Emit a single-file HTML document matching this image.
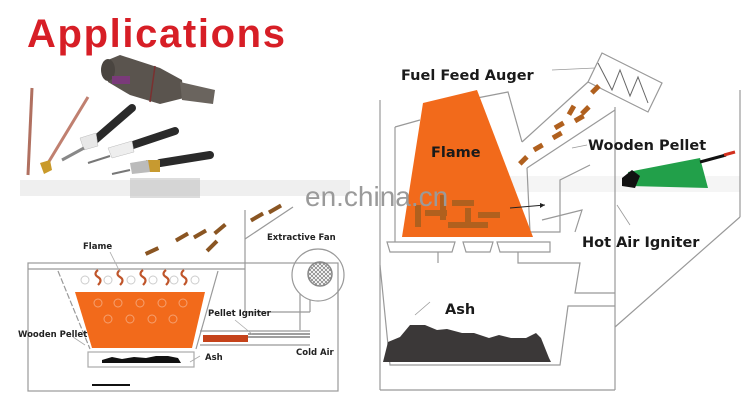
<!DOCTYPE html>
<html><head><meta charset="utf-8"><style>
html,body{margin:0;padding:0;background:#fff;}
svg{display:block;}
text{font-family:"DejaVu Sans","Liberation Sans",sans-serif;font-weight:bold;}
</style></head><body>
<svg width="750" height="400" viewBox="0 0 750 400" xmlns="http://www.w3.org/2000/svg">
<defs>
<pattern id="hatch" width="4" height="4" patternUnits="userSpaceOnUse">
<path d="M0 0L4 4M4 0L0 4" stroke="#777" stroke-width="0.7"/>
</pattern>
</defs>
<rect width="750" height="400" fill="#fff"/>
<text x="27" y="47" font-size="40" fill="#d71e26" style="font-family:'Liberation Sans',sans-serif" textLength="258">Applications</text>

<g>
<line x1="32" y1="88" x2="28" y2="175" stroke="#b07060" stroke-width="3"/>
<line x1="88" y1="97" x2="45" y2="168" stroke="#c08070" stroke-width="3"/>
<polygon points="40,163 50,160 52,170 44,174" fill="#c99a2a"/>
<line x1="132" y1="108" x2="95" y2="140" stroke="#2a2a2a" stroke-width="8" stroke-linecap="round"/>
<polygon points="80,138 96,133 98,146 84,150" fill="#e8e8e8" stroke="#bbb" stroke-width="0.5"/>
<line x1="84" y1="148" x2="62" y2="160" stroke="#888" stroke-width="3"/>
<line x1="175" y1="131" x2="130" y2="146" stroke="#2a2a2a" stroke-width="8" stroke-linecap="round"/>
<polygon points="108,148 132,141 134,152 112,158" fill="#eee" stroke="#bbb" stroke-width="0.5"/>
<line x1="110" y1="156" x2="88" y2="163" stroke="#777" stroke-width="2"/>
<line x1="210" y1="155" x2="160" y2="163" stroke="#2a2a2a" stroke-width="8" stroke-linecap="round"/>
<rect x="146" y="160" width="14" height="12" fill="#c79a30"/>
<polygon points="130,163 148,160 150,172 132,174" fill="#bbb"/>
<line x1="130" y1="170" x2="112" y2="174" stroke="#777" stroke-width="2"/>
<polygon points="103,62 120,55 160,68 182,80 184,98 160,104 130,95 108,82" fill="#5a544e"/>
<ellipse cx="108" cy="70" rx="7" ry="11" fill="#4a4540"/>
<rect x="112" y="76" width="18" height="8" fill="#7a3a7a"/>
<line x1="155" y1="66" x2="150" y2="102" stroke="#7a3030" stroke-width="1.5"/>
<polygon points="180,82 215,90 213,104 182,100" fill="#6a645e"/>
</g>
<rect x="20" y="180" width="330" height="16" fill="#e4e4e4" opacity="0.6"/>
<rect x="130" y="178" width="70" height="20" fill="#bbb" opacity="0.5"/>
<rect x="420" y="176" width="320" height="16" fill="#eee" opacity="0.6"/>

<!-- LEFT DIAGRAM -->
<g fill="none" stroke="#999" stroke-width="1.2">
<rect x="28" y="263" width="310" height="128"/>
<line x1="28" y1="269" x2="245" y2="269"/>
<line x1="245" y1="210" x2="245" y2="312"/>
<line x1="245" y1="312" x2="310" y2="312"/>
<line x1="310" y1="300" x2="310" y2="312"/>
<line x1="245" y1="239" x2="293" y2="207"/>
<line x1="58" y1="271" x2="90" y2="349" stroke-dasharray="6,2"/>
<line x1="218" y1="271" x2="196" y2="349"/>
<rect x="88" y="352" width="106" height="15" stroke="#aaa"/>
<line x1="200" y1="331" x2="310" y2="331"/>
<line x1="200" y1="345" x2="310" y2="345"/>
<line x1="248" y1="334" x2="310" y2="334" stroke="#666"/>
<line x1="248" y1="337" x2="310" y2="337" stroke="#666"/>
<circle cx="318" cy="275" r="26" stroke="#999"/>
<line x1="300" y1="294" x2="300" y2="330"/>
<line x1="338" y1="290" x2="338" y2="310"/>
</g>
<circle cx="320" cy="274" r="12" fill="url(#hatch)" stroke="#888" stroke-width="1.5"/>
<polygon points="75,292 205,292 192,348 92,348" fill="#f26a1b"/>
<g fill="none" stroke="#f5a070" stroke-width="1">
<circle cx="98" cy="303" r="4"/><circle cx="118" cy="303" r="4"/><circle cx="140" cy="303" r="4"/><circle cx="162" cy="303" r="4"/><circle cx="183" cy="303" r="4"/>
<circle cx="108" cy="319" r="4"/><circle cx="130" cy="319" r="4"/><circle cx="152" cy="319" r="4"/><circle cx="173" cy="319" r="4"/>
</g>
<g fill="none" stroke="#ccc" stroke-width="1">
<circle cx="85" cy="280" r="4"/><circle cx="108" cy="280" r="4"/><circle cx="131" cy="280" r="4"/><circle cx="153" cy="280" r="4"/><circle cx="174" cy="280" r="4"/><circle cx="195" cy="280" r="4"/>
</g>
<g fill="none" stroke="#c0552a" stroke-width="2.2">
<path d="M98 270q-5 4 0 7t0 8"/><path d="M120 270q-5 4 0 7t0 8"/><path d="M143 270q-5 4 0 7t0 8"/><path d="M166 270q-5 4 0 7t0 8"/><path d="M184 270q-5 4 0 7t0 8"/>
</g>
<path d="M102 360l10-3 10 2 12-2 12 1 10-2 12 0 10 2 3 5-79 0z" fill="#111"/>
<rect x="203" y="335" width="45" height="7" fill="#c5421a"/>
<line x1="92" y1="385" x2="130" y2="385" stroke="#111" stroke-width="2"/>
<g fill="#8a5522">
<rect x="145" y="249" width="14" height="4" transform="rotate(-25 152 251)"/>
<rect x="175" y="235" width="14" height="4" transform="rotate(-30 182 237)"/>
<rect x="193" y="232" width="14" height="4" transform="rotate(-30 200 234)"/>
<rect x="205" y="244" width="14" height="4" transform="rotate(-45 212 246)"/>
<rect x="213" y="227" width="14" height="4" transform="rotate(-40 220 229)"/>
<rect x="250" y="215" width="14" height="4" transform="rotate(-30 257 217)"/>
<rect x="268" y="207" width="14" height="4" transform="rotate(-30 275 209)"/>
</g>
<g font-size="8.5" fill="#222">
<text x="83" y="249">Flame</text>
<text x="267" y="240">Extractive Fan</text>
<text x="208" y="316">Pellet Igniter</text>
<text x="18" y="337">Wooden Pellet</text>
<text x="205" y="360">Ash</text>
<text x="296" y="355">Cold Air</text>
</g>
<g stroke="#aaa" stroke-width="0.8" fill="none">
<line x1="110" y1="252" x2="120" y2="272"/>
<line x1="235" y1="320" x2="252" y2="334"/>
<line x1="73" y1="337" x2="85" y2="345"/>
<line x1="200" y1="356" x2="190" y2="362"/>
</g>

<!-- RIGHT DIAGRAM -->
<g fill="none" stroke="#999" stroke-width="1.2">
<line x1="380" y1="100" x2="380" y2="390"/>
<line x1="380" y1="390" x2="615" y2="390"/>
<line x1="615" y1="107" x2="615" y2="390"/>
<line x1="740" y1="90" x2="740" y2="217"/>
<line x1="740" y1="217" x2="615" y2="327"/>
<polyline points="395,127 420,120"/>
<polyline points="395,127 395,242"/>
<polyline points="477,98 508,92 522,142"/>
<polygon points="602,53 662,83 648,112 588,82"/>
<line x1="588" y1="82" x2="522" y2="142"/>
<line x1="615" y1="110" x2="527" y2="168"/>
<polyline points="527,168 530,232 560,232 560,180 590,165"/>
<polyline points="542,220 582,210 575,232"/>
<polygon points="387,242 455,242 452,252 390,252"/>
<polygon points="463,242 493,242 490,252 466,252"/>
<polygon points="497,242 550,242 550,252 500,252"/>
<polyline points="438,252 438,263"/>
<polyline points="518,252 518,263 580,263 575,293 615,293"/>
<polyline points="380,265 390,365 560,365 568,306 615,306"/>
</g>
<polyline points="598,63 612,90 620,70 630,96 638,77 648,103" fill="none" stroke="#666" stroke-width="1"/>
<polygon points="423,103 477,90 533,237 402,237" fill="#f26a1b"/>
<g fill="#b0601e">
<rect x="415" y="205" width="6" height="22"/>
<rect x="425" y="210" width="22" height="6"/>
<rect x="440" y="195" width="6" height="25"/>
<rect x="452" y="200" width="22" height="6"/>
<rect x="465" y="208" width="6" height="18"/>
<rect x="478" y="212" width="22" height="6"/>
<rect x="448" y="222" width="40" height="6"/>
</g>
<g fill="#b0601e">
<rect x="590" y="87" width="10" height="5" transform="rotate(-45 595 89)"/>
<rect x="580" y="108" width="10" height="5" transform="rotate(-45 585 110)"/>
<rect x="566" y="108" width="10" height="5" transform="rotate(-60 571 110)"/>
<rect x="574" y="116" width="10" height="5" transform="rotate(-30 579 118)"/>
<rect x="552" y="133" width="10" height="5" transform="rotate(-30 557 135)"/>
<rect x="554" y="123" width="10" height="5" transform="rotate(-30 559 125)"/>
<rect x="533" y="145" width="10" height="5" transform="rotate(-30 538 147)"/>
<rect x="518" y="158" width="10" height="5" transform="rotate(-45 523 160)"/>
</g>
<path d="M388 342l12-5 10-12 15 0 12 5 10-1 15 4 12 0 15 5 10-3 12 3 15 0 10-5 5 5 8 20 2 4-168 0z" fill="#3b3838"/>
<polygon points="628,172 700,158 708,188 630,186" fill="#22a04a"/>
<polygon points="622,178 632,170 640,176 635,188 622,186" fill="#111"/>
<line x1="700" y1="162" x2="726" y2="155" stroke="#111" stroke-width="3"/>
<line x1="724" y1="155" x2="735" y2="152" stroke="#d2301e" stroke-width="3"/>
<line x1="510" y1="208" x2="545" y2="205" stroke="#222" stroke-width="1"/>
<polygon points="540,203 545,205 540,208" fill="#222"/>
<g stroke="#999" stroke-width="0.8" fill="none">
<line x1="552" y1="70" x2="595" y2="68"/>
<line x1="572" y1="148" x2="587" y2="145"/>
<line x1="617" y1="205" x2="630" y2="225"/>
<line x1="415" y1="315" x2="430" y2="302"/>
</g>
<g font-size="14.5" fill="#1a1a1a">
<text x="401" y="80">Fuel Feed Auger</text>
<text x="431" y="157">Flame</text>
<text x="588" y="150">Wooden Pellet</text>
<text x="582" y="247">Hot Air Igniter</text>
<text x="445" y="314">Ash</text>
</g>
<text x="305" y="206" font-size="28" fill="#9a9a9a" style="font-family:'Liberation Sans',sans-serif;font-weight:normal">en.china.cn</text>
</svg>
</body></html>
